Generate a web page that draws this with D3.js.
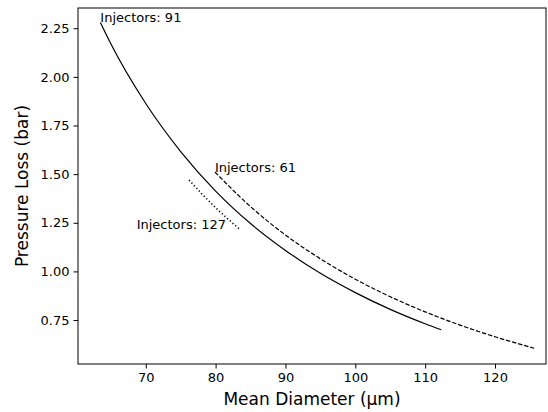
<!DOCTYPE html>
<html>
<head>
<meta charset="utf-8">
<script src="https://cdn.jsdelivr.net/npm/d3@7"></script>
<style>
  body { margin: 0; background: #fff; }
  svg { font-family: "DejaVu Sans", sans-serif; }
</style>
</head>
<body>
<svg id="chart"></svg>
<script>
// диаметры и потери давления
const diam91 = [63.5, 65, 70, 75, 80, 85, 90, 95, 100, 105, 110, 112.3];
const loss91 = [2.28, 2.17, 1.863, 1.616, 1.413, 1.246, 1.108, 0.990, 0.891, 0.805, 0.731, 0.700];

const diam61 = [79.9, 85, 90, 95, 100, 105, 110, 115, 120, 125.6];
const loss61 = [1.511, 1.333, 1.187, 1.065, 0.960, 0.870, 0.792, 0.724, 0.664, 0.605];

const diam127 = [76.2, 78, 80, 82, 83.5];
const loss127 = [1.470, 1.400, 1.328, 1.262, 1.215];

const xTicks = [70, 80, 90, 100, 110, 120];
const yTicks = [0.75, 1.00, 1.25, 1.50, 1.75, 2.00, 2.25];

// подписи серий: текст, точка привязки, выравнивание
const labels = [
    {text: 'Injectors: 91', x: 63.5, y: 2.28, anchor: 'start'},
    {text: 'Injectors: 61', x: 79.9, y: 1.511, anchor: 'start'},
    {text: 'Injectors: 127', x: 68.7, y: 1.218, anchor: 'start'}
];

let width = 548;
let height = 412;

let svg = d3.select("#chart")
    .attr("width", width)
    .attr("height", height);

let pLeft = 78, pRight = 546, pTop = 8, pBottom = 364;

let scaleX = d3.scaleLinear()
    .domain([60.3, 127.3])
    .range([pLeft, pRight]);

let scaleY = d3.scaleLinear()
    .domain([0.524, 2.354])
    .range([pBottom, pTop]);

// оси
let axisX = d3.axisBottom(scaleX).tickValues(xTicks).tickSize(4.5).tickPadding(4).tickFormat(d3.format("d"));
let axisY = d3.axisLeft(scaleY).tickValues(yTicks).tickSize(4.5).tickPadding(4).tickFormat(d3.format(".2f"));

let gx = svg.append("g")
    .attr("transform", `translate(0, ${pBottom})`)
    .call(axisX);
let gy = svg.append("g")
    .attr("transform", `translate(${pLeft}, 0)`)
    .call(axisY);

[gx, gy].forEach(g => {
    g.select(".domain").remove();
    g.selectAll(".tick line").attr("stroke", "#000").attr("stroke-width", 1);
    g.selectAll(".tick text").attr("fill", "#000").style("font-size", "13px")
        .style("font-family", "DejaVu Sans, sans-serif");
});

// рамка
svg.append("rect")
    .attr("x", pLeft)
    .attr("y", pTop)
    .attr("width", pRight - pLeft)
    .attr("height", pBottom - pTop)
    .attr("fill", "none")
    .attr("stroke", "#000")
    .attr("stroke-width", 1);

let lineF = d3.line()
    .x(d => scaleX(d[0]))
    .y(d => scaleY(d[1]))
    .curve(d3.curveMonotoneX);

svg.append("path")
    .datum(diam91.map((d, i) => [d, loss91[i]]))
    .attr("d", lineF)
    .attr("fill", "none")
    .attr("stroke", "#000")
    .attr("stroke-width", 1.2);

svg.append("path")
    .datum(diam61.map((d, i) => [d, loss61[i]]))
    .attr("d", lineF)
    .attr("fill", "none")
    .attr("stroke", "#000")
    .attr("stroke-width", 1.2)
    .attr("stroke-dasharray", "4.4,1.9");

svg.append("path")
    .datum(diam127.map((d, i) => [d, loss127[i]]))
    .attr("d", lineF)
    .attr("fill", "none")
    .attr("stroke", "#000")
    .attr("stroke-width", 1.6)
    .attr("stroke-dasharray", "1.2,2.4");

svg.selectAll(".lbl")
    .data(labels)
    .enter()
    .append("text")
    .attr("x", d => scaleX(d.x))
    .attr("y", d => scaleY(d.y))
    .attr("text-anchor", d => d.anchor)
    .style("font-size", "13px")
    .text(d => d.text);

svg.append("text")
    .attr("x", (pLeft + pRight) / 2)
    .attr("y", 405)
    .attr("text-anchor", "middle")
    .style("font-size", "17px")
    .text("Mean Diameter (µm)");

svg.append("text")
    .attr("transform", `translate(28, ${(pTop + pBottom) / 2}) rotate(-90)`)
    .attr("text-anchor", "middle")
    .style("font-size", "17px")
    .text("Pressure Loss (bar)");
</script>
</body>
</html>
